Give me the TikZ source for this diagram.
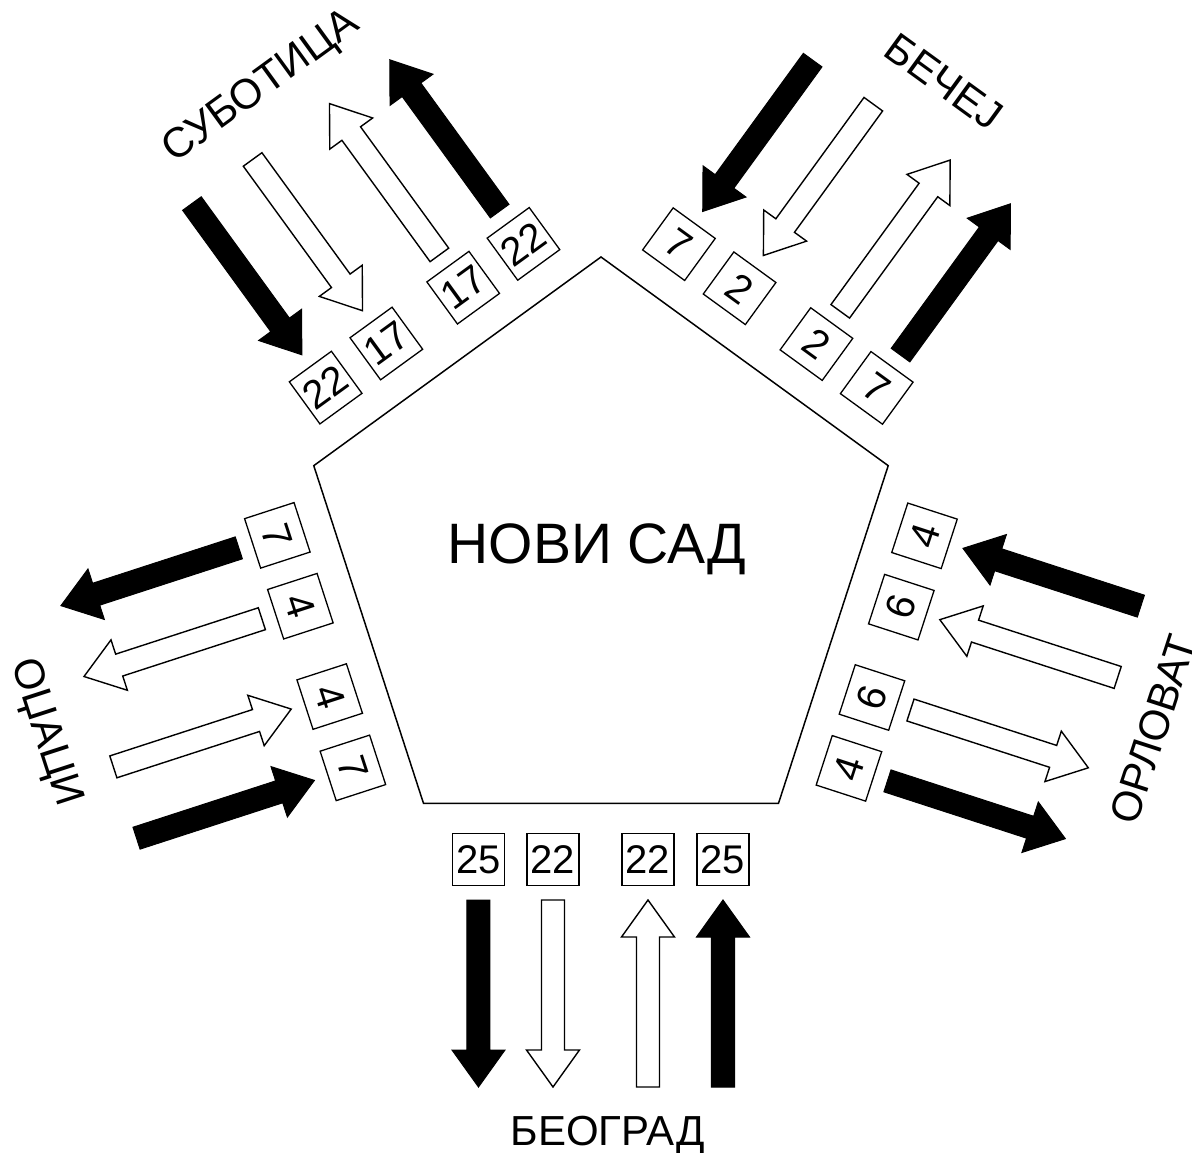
\documentclass[tikz,border=0pt]{standalone}
\usepackage{fontspec}
\setmainfont{Liberation Sans}
\begin{document}
\begin{tikzpicture}[x=1pt,y=1pt,
  numbox/.style={draw, line width=1.3pt, minimum size=52pt, inner sep=0pt,
    font=\fontsize{40}{40}\selectfont},
  city/.style={anchor=base, inner sep=0pt, font=\fontsize{42}{42}\selectfont},
  heavy/.style={fill=black, draw=black, line width=1pt, line join=miter},
  light/.style={fill=white, draw=black, line width=1.4pt, line join=miter},
  pics/flowarrow/.style={code={
    \path[pic actions] (-11.5,0) -- (-11.5,150) -- (-26.5,150) -- (0,187)
      -- (26.5,150) -- (11.5,150) -- (11.5,0) -- cycle;
  }},
]
\useasboundingbox (-601,-594) rectangle (591,559);

% the city: a regular pentagon
\draw[line width=1.5pt, line join=miter]
  (90:302) -- (162:302) -- (234:302) -- (306:302) -- (18:302) -- cycle;
\node[anchor=base, inner sep=0pt, font=\fontsize{57}{57}\selectfont] (centre) at (-4,-4.3) {НОВИ САД};

% one group of flows per side: angle / text turn / outer count / inner count / name
\foreach \ang/\flip/\outer/\inner/\nm in
  {0/0/25/22/s, 72/0/4/6/e, 144/180/7/2/ne, 216/180/22/17/nw, 288/0/7/4/w}{
  \begin{scope}[rotate=\ang]
    \node[numbox, transform shape, rotate=\flip] (\nm-1) at (-122.5,-300.5) {\outer};
    \node[numbox, transform shape, rotate=\flip] (\nm-2) at (-48,-300.5) {\inner};
    \node[numbox, transform shape, rotate=\flip] (\nm-3) at (47,-300.5) {\inner};
    \node[numbox, transform shape, rotate=\flip] (\nm-4) at (122,-300.5) {\outer};
    % outgoing flows
    \pic[heavy, transform shape, rotate=180] at (-122.5,-341) {flowarrow};
    \pic[light, transform shape, rotate=180] at (-48,-341) {flowarrow};
    % incoming flows
    \pic[light, transform shape] at (47,-528) {flowarrow};
    \pic[heavy, transform shape] at (122,-528) {flowarrow};
  \end{scope}
}

% destinations
\node[city] (beograd)  at (6.5,-586.7) {БЕОГРАД};
\node[city, rotate=72]  (orlovat)  at (566,-175) {ОРЛОВАТ};
\node[city, rotate=-36] (becej)    at (334.5,466) {БЕЧЕЈ};
\node[city, rotate=36]  (subotica) at (-333,463) {СУБОТИЦА};
\node[city, rotate=-72] (odzaci)   at (-566,-177) {ОЏАЦИ};
\end{tikzpicture}
\end{document}
